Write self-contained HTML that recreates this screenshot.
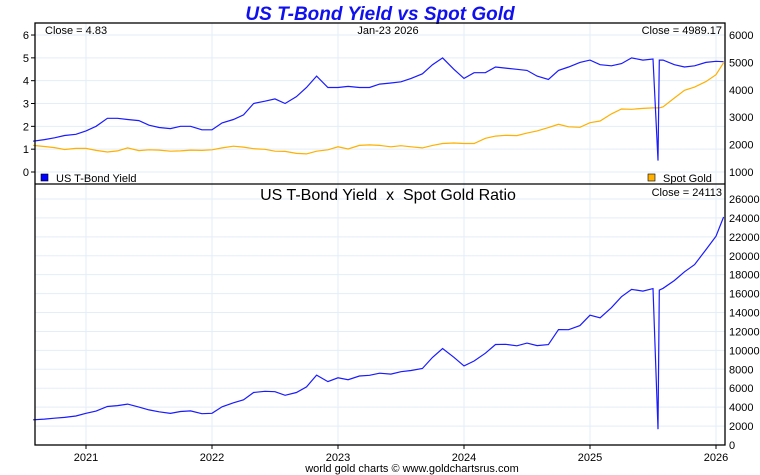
<!DOCTYPE html>
<html><head><meta charset="utf-8"><style>
html,body{margin:0;padding:0;background:#fff;width:760px;height:475px;overflow:hidden}
svg text{font-family:"Liberation Sans",Arial,sans-serif}
</style></head><body>
<svg id="chart" width="760" height="475" xmlns="http://www.w3.org/2000/svg">
<text x="380" y="20" text-anchor="middle" font-size="19" font-weight="bold" font-style="italic" fill="#1010ee">US T-Bond Yield vs Spot Gold</text>
<g id="grid"></g>
<g id="series"></g>
<g id="axes"></g>
<text x="412" y="472" text-anchor="middle" font-size="11" fill="#000">world gold charts © www.goldchartsrus.com</text>
</svg>
<script>
const dates=[2020.58,2020.67,2020.75,2020.83,2020.92,2021.0,2021.08,2021.17,2021.25,2021.33,2021.42,2021.5,2021.58,2021.67,2021.75,2021.83,2021.92,2022.0,2022.08,2022.17,2022.25,2022.33,2022.42,2022.5,2022.58,2022.67,2022.75,2022.83,2022.92,2023.0,2023.08,2023.17,2023.25,2023.33,2023.42,2023.5,2023.58,2023.67,2023.75,2023.83,2023.92,2024.0,2024.08,2024.17,2024.25,2024.33,2024.42,2024.5,2024.58,2024.67,2024.75,2024.83,2024.92,2025.0,2025.08,2025.17,2025.25,2025.33,2025.42,2025.5,2025.54,2025.55,2025.58,2025.67,2025.75,2025.83,2025.92,2026.0,2026.06];
const yieldVals=[1.35,1.42,1.5,1.6,1.65,1.8,2.0,2.35,2.35,2.3,2.25,2.05,1.95,1.9,2.0,2.0,1.85,1.85,2.15,2.3,2.5,3.0,3.1,3.2,3.0,3.3,3.7,4.2,3.7,3.7,3.75,3.7,3.7,3.85,3.9,3.95,4.1,4.3,4.7,5.0,4.5,4.1,4.35,4.35,4.6,4.55,4.5,4.45,4.2,4.05,4.45,4.6,4.8,4.9,4.7,4.65,4.75,5.0,4.9,4.95,0.5,4.9,4.9,4.7,4.6,4.65,4.8,4.85,4.83];
const goldVals=[1970,1930,1890,1820,1860,1860,1790,1730,1770,1880,1780,1810,1800,1760,1770,1800,1790,1810,1880,1940,1910,1850,1830,1760,1750,1680,1660,1760,1810,1920,1840,1970,1990,1970,1920,1960,1920,1880,1970,2040,2060,2040,2040,2230,2310,2340,2330,2420,2500,2620,2740,2650,2630,2800,2860,3120,3300,3290,3320,3340,3340,3340,3380,3700,3980,4100,4300,4550,4989];
const leftTicks=["0","1","2","3","4","5","6"];
const rightTicks=["1000","2000","3000","4000","5000","6000"];
const ratioTicks=["0","2000","4000","6000","8000","10000","12000","14000","16000","18000","20000","22000","24000","26000"];
const yearLabels=["2021","2022","2023","2024","2025","2026"];
const NS="http://www.w3.org/2000/svg";
const L=35,R=725,T=23,MID=184,B=445;
const x=t=>86+(t-2021)*126;
const yL=v=>172-v*22.83;
const yR=g=>172-(g-1000)*0.0274;
const yB=r=>445-r*0.009462;
function mk(tag,attrs,parent,txt){const e=document.createElementNS(NS,tag);for(const k in attrs)e.setAttribute(k,attrs[k]);if(txt!==undefined)e.textContent=txt;document.getElementById(parent).appendChild(e);return e;}
// grid
yearLabels.forEach(yr=>{const gx=x(+yr);
 let e=mk('line',{x1:gx,x2:gx,y1:T,y2:B,stroke:'#e3eef8','stroke-width':1},'grid');
 
 e=mk('text',{x:gx,y:461,'text-anchor':'middle','font-size':11},'axes',yr);
 
 e=mk('line',{x1:gx,x2:gx,y1:B,y2:B+4,stroke:'#000'},'axes');
 
});
leftTicks.forEach(t=>{const gy=yL(+t);
 let e=mk('line',{x1:L,x2:R,y1:gy,y2:gy,stroke:'#e3eef8'},'grid');
 
 e=mk('text',{x:29,y:gy+4,'text-anchor':'end','font-size':11},'axes',t);
 
 e=mk('line',{x1:L-4,x2:L,y1:gy,y2:gy,stroke:'#000'},'axes');
 
});
rightTicks.forEach(t=>{const gy=yR(+t);
 let e=mk('text',{x:729,y:gy+4,'font-size':11},'axes',t);
 
});
ratioTicks.forEach(t=>{const gy=yB(+t);
 let e=mk('line',{x1:L,x2:R,y1:gy,y2:gy,stroke:'#e3eef8'},'grid');
 
 e=mk('text',{x:729,y:gy+4,'font-size':11},'axes',t);
 
});
// series
function path(fy,vals){return vals.map((v,i)=>(i?'L':'M')+x(dates[i]).toFixed(1)+','+fy(v).toFixed(1)).join('');}
let p=mk('path',{d:path(yR,goldVals),fill:'none',stroke:'#ffb000','stroke-width':1.2},'series');

p=mk('path',{d:path(yL,yieldVals),fill:'none',stroke:'#1a1aff','stroke-width':1.2},'series');

const ratio=yieldVals.map((v,i)=>v*goldVals[i]);
p=mk('path',{d:path(yB,ratio),fill:'none',stroke:'#1a1aff','stroke-width':1.2},'series');

// frames & labels
let e=mk('rect',{x:L,y:T,width:R-L,height:B-T,fill:'none',stroke:'#000','stroke-width':1.3},'axes');

e=mk('line',{x1:L,x2:R,y1:MID,y2:MID,stroke:'#000','stroke-width':1.3},'axes');

e=mk('text',{x:45,y:34,'font-size':11},'axes','Close = '+yieldVals[yieldVals.length-1].toFixed(2));

e=mk('text',{x:388,y:34,'text-anchor':'middle','font-size':11},'axes','Jan-23  2026');

e=mk('text',{x:722,y:34,'text-anchor':'end','font-size':11},'axes','Close = 4989.17');

e=mk('rect',{x:41,y:174,width:7,height:7,fill:'#0000ff',stroke:'#000','stroke-width':0.6},'axes');

e=mk('text',{x:56,y:182,'font-size':11},'axes','US T-Bond Yield');

e=mk('rect',{x:648,y:174,width:7,height:7,fill:'#ffb000',stroke:'#000','stroke-width':0.6},'axes');

e=mk('text',{x:663,y:182,'font-size':11},'axes','Spot Gold');

e=mk('text',{x:388,y:200,'text-anchor':'middle','font-size':16},'axes','US T-Bond Yield  x  Spot Gold Ratio');

e.setAttribute('xml:space','preserve');e.style.whiteSpace='pre';
e=mk('text',{x:722,y:196,'text-anchor':'end','font-size':11},'axes','Close = 24113');

</script>
</body></html>
